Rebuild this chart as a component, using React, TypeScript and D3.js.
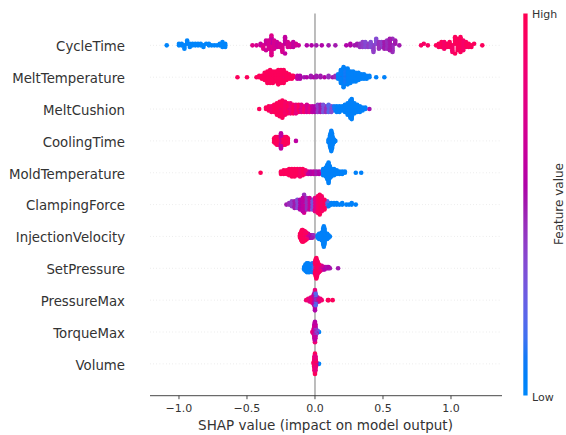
import React, { useEffect, useRef } from 'react';
import * as d3 from 'd3';

// feature names, top to bottom
const features = [
  'CycleTime', 'MeltTemperature', 'MeltCushion', 'CoolingTime', 'MoldTemperature',
  'ClampingForce', 'InjectionVelocity', 'SetPressure', 'PressureMax', 'TorqueMax', 'Volume'
];

// each entry: [shap value, feature value (0 = low .. 1 = high), number of samples]
type Pt = [number, number, number];

const cycleTime: Pt[] = [
  [-1.09, 0.02, 1], [-1.00, 0.02, 2], [-0.98, 0.02, 2], [-0.96, 0.02, 3], [-0.94, 0.02, 3],
  [-0.92, 0.02, 3], [-0.90, 0.02, 2], [-0.88, 0.02, 2], [-0.86, 0.02, 2], [-0.84, 0.02, 2],
  [-0.82, 0.02, 2], [-0.80, 0.02, 1], [-0.78, 0.02, 2], [-0.76, 0.02, 1], [-0.74, 0.02, 1],
  [-0.72, 0.02, 1], [-0.70, 0.02, 2], [-0.68, 0.02, 4], [-0.66, 0.02, 3],
  [-0.46, 0.75, 1], [-0.43, 0.7, 1], [-0.40, 0.65, 2], [-0.38, 0.75, 3], [-0.36, 0.65, 4],
  [-0.34, 0.7, 6], [-0.32, 0.75, 8], [-0.32, 0.6, 5], [-0.30, 0.7, 6], [-0.28, 0.65, 4],
  [-0.26, 0.7, 3], [-0.24, 0.72, 5], [-0.22, 0.62, 6], [-0.20, 0.7, 4], [-0.18, 0.7, 3],
  [-0.16, 0.62, 4], [-0.14, 0.7, 2], [-0.12, 0.65, 1],
  [-0.06, 0.55, 1], [-0.025, 0.55, 1], [0.01, 0.5, 1], [0.05, 0.55, 1], [0.10, 0.5, 1], [0.15, 0.5, 1],
  [0.23, 0.55, 1], [0.26, 0.55, 2], [0.29, 0.5, 1], [0.31, 0.5, 2], [0.33, 0.45, 3],
  [0.35, 0.4, 4], [0.37, 0.35, 4], [0.39, 0.4, 3], [0.41, 0.35, 4], [0.43, 0.4, 5],
  [0.45, 0.35, 4], [0.47, 0.45, 5], [0.49, 0.4, 4], [0.51, 0.5, 5], [0.53, 0.45, 6],
  [0.55, 0.5, 8], [0.57, 0.45, 6], [0.59, 0.5, 3], [0.62, 0.5, 1],
  [0.78, 0.92, 1], [0.80, 0.92, 1], [0.83, 0.92, 1], [0.89, 0.96, 1], [0.91, 0.96, 3],
  [0.93, 0.96, 4], [0.95, 0.9, 5], [0.97, 0.96, 3], [0.99, 0.96, 4], [1.01, 0.9, 5],
  [1.03, 0.96, 6], [1.05, 0.96, 8], [1.07, 0.96, 10], [1.09, 0.9, 7], [1.11, 0.96, 4],
  [1.13, 0.96, 3], [1.15, 0.96, 2], [1.17, 0.96, 1], [1.23, 0.96, 1]
];

const meltTemperature: Pt[] = [
  [-0.57, 0.96, 1], [-0.50, 0.96, 1], [-0.43, 0.96, 1], [-0.41, 0.96, 2], [-0.39, 0.96, 3],
  [-0.37, 0.96, 6], [-0.35, 0.96, 9], [-0.33, 0.96, 10], [-0.31, 0.96, 9], [-0.30, 0.8, 2],
  [-0.29, 0.96, 8], [-0.27, 0.96, 11], [-0.25, 0.96, 10], [-0.24, 0.8, 2], [-0.23, 0.96, 8],
  [-0.21, 0.96, 6], [-0.19, 0.96, 4], [-0.17, 0.96, 3], [-0.16, 0.96, 2],
  [-0.13, 0.6, 3], [-0.11, 0.55, 3], [-0.08, 0.5, 1], [-0.06, 0.55, 1], [-0.03, 0.5, 2],
  [-0.01, 0.55, 1], [0.01, 0.5, 2], [0.04, 0.5, 2], [0.07, 0.55, 1], [0.10, 0.45, 2],
  [0.13, 0.5, 1], [0.15, 0.45, 2],
  [0.17, 0.05, 4], [0.19, 0.05, 10], [0.20, 0.5, 2], [0.21, 0.05, 15], [0.22, 0.1, 12],
  [0.23, 0.5, 2], [0.24, 0.05, 12], [0.25, 0.7, 1], [0.26, 0.05, 9], [0.28, 0.05, 8],
  [0.30, 0.05, 7], [0.32, 0.05, 6], [0.34, 0.05, 4], [0.36, 0.05, 4], [0.38, 0.05, 3],
  [0.40, 0.05, 2], [0.45, 0.05, 1], [0.51, 0.05, 1]
];

const meltCushion: Pt[] = [
  [-0.41, 0.96, 1], [-0.36, 0.96, 2], [-0.34, 0.96, 4], [-0.32, 0.9, 5], [-0.30, 0.96, 6],
  [-0.28, 0.96, 9], [-0.26, 0.96, 11], [-0.25, 0.75, 3], [-0.24, 0.96, 13], [-0.22, 0.9, 10],
  [-0.20, 0.96, 8], [-0.19, 0.7, 3], [-0.18, 0.85, 8], [-0.16, 0.96, 7], [-0.14, 0.8, 7],
  [-0.12, 0.96, 6], [-0.11, 0.65, 3], [-0.10, 0.75, 6], [-0.08, 0.9, 5], [-0.06, 0.7, 6],
  [-0.04, 0.8, 5], [-0.02, 0.6, 5],
  [0.00, 0.55, 5], [0.02, 0.4, 6], [0.04, 0.5, 6], [0.06, 0.3, 6], [0.08, 0.45, 5],
  [0.10, 0.2, 6], [0.12, 0.35, 5], [0.14, 0.1, 4],
  [0.16, 0.05, 5], [0.18, 0.05, 5], [0.20, 0.05, 4], [0.22, 0.05, 6], [0.24, 0.05, 9],
  [0.26, 0.05, 13], [0.27, 0.05, 15], [0.29, 0.05, 8], [0.31, 0.05, 6], [0.33, 0.05, 5],
  [0.35, 0.05, 3], [0.37, 0.05, 2], [0.40, 0.5, 1]
];

const coolingTime: Pt[] = [
  [-0.30, 0.96, 4], [-0.29, 0.96, 6], [-0.28, 0.96, 7], [-0.27, 0.96, 7], [-0.26, 0.9, 7],
  [-0.25, 0.6, 13], [-0.24, 0.96, 7], [-0.23, 0.96, 7], [-0.22, 0.96, 7], [-0.21, 0.96, 6],
  [-0.20, 0.96, 5], [-0.14, 0.6, 1],
  [0.10, 0.05, 3], [0.11, 0.05, 9], [0.115, 0.05, 13], [0.12, 0.05, 17], [0.125, 0.05, 13],
  [0.13, 0.05, 7], [0.14, 0.05, 3], [0.15, 0.05, 1]
];

const moldTemperature: Pt[] = [
  [-0.40, 0.96, 1], [-0.25, 0.96, 3], [-0.23, 0.96, 4], [-0.21, 0.96, 4], [-0.19, 0.96, 6],
  [-0.17, 0.96, 7], [-0.15, 0.96, 7], [-0.13, 0.96, 6], [-0.11, 0.9, 7], [-0.09, 0.96, 6],
  [-0.07, 0.85, 4],
  [-0.05, 0.6, 3], [-0.03, 0.55, 3], [-0.01, 0.6, 3], [0.01, 0.5, 3], [0.03, 0.55, 3], [0.05, 0.45, 2],
  [0.06, 0.05, 6], [0.08, 0.05, 8], [0.09, 0.05, 12], [0.10, 0.05, 17], [0.11, 0.05, 10],
  [0.12, 0.05, 7], [0.14, 0.05, 6], [0.16, 0.05, 4], [0.18, 0.05, 3], [0.20, 0.05, 3],
  [0.22, 0.05, 2], [0.30, 0.05, 1], [0.34, 0.05, 1]
];

const clampingForce: Pt[] = [
  [-0.21, 0.5, 1], [-0.19, 0.45, 2], [-0.17, 0.4, 4], [-0.15, 0.5, 5], [-0.13, 0.35, 6],
  [-0.11, 0.55, 7], [-0.09, 0.6, 9], [-0.08, 0.7, 6], [-0.08, 0.45, 6], [-0.06, 0.45, 8],
  [-0.04, 0.65, 8], [-0.02, 0.3, 7], [0.00, 0.75, 9], [0.02, 0.9, 11], [0.035, 0.96, 13],
  [0.05, 0.9, 10], [0.07, 0.96, 7], [0.09, 0.2, 4],
  [0.10, 0.05, 3], [0.12, 0.05, 2], [0.14, 0.05, 2], [0.16, 0.05, 2], [0.18, 0.05, 1],
  [0.20, 0.05, 2], [0.23, 0.05, 1], [0.25, 0.05, 1], [0.27, 0.05, 2], [0.30, 0.05, 1]
];

const injectionVelocity: Pt[] = [
  [-0.11, 0.96, 4], [-0.10, 0.96, 8], [-0.095, 0.96, 10], [-0.09, 0.96, 10], [-0.085, 0.96, 9],
  [-0.08, 0.96, 8], [-0.075, 0.9, 8], [-0.07, 0.96, 7], [-0.065, 0.96, 6], [-0.06, 0.85, 5],
  [-0.055, 0.75, 4], [-0.05, 0.65, 4], [-0.04, 0.6, 3], [-0.03, 0.55, 3], [-0.02, 0.5, 3],
  [-0.01, 0.45, 2],
  [0.02, 0.05, 3], [0.03, 0.05, 5], [0.04, 0.05, 5], [0.05, 0.05, 7], [0.06, 0.05, 13],
  [0.065, 0.05, 17], [0.07, 0.05, 13], [0.08, 0.05, 5], [0.09, 0.05, 5], [0.10, 0.05, 3],
  [0.11, 0.05, 1]
];

const setPressure: Pt[] = [
  [-0.08, 0.05, 3], [-0.07, 0.05, 6], [-0.06, 0.05, 8], [-0.05, 0.05, 8], [-0.04, 0.05, 7],
  [-0.03, 0.05, 6], [-0.02, 0.1, 8], [-0.01, 0.2, 6],
  [0.00, 0.9, 10], [0.005, 0.96, 14], [0.01, 0.96, 17], [0.015, 0.9, 13], [0.02, 0.96, 10],
  [0.03, 0.9, 7], [0.04, 0.8, 5], [0.05, 0.7, 4], [0.06, 0.6, 3], [0.07, 0.55, 3],
  [0.08, 0.6, 2], [0.09, 0.5, 2], [0.10, 0.55, 2], [0.11, 0.5, 1], [0.17, 0.5, 1]
];

const pressureMax: Pt[] = [
  [-0.065, 0.85, 1], [-0.05, 0.9, 2], [-0.04, 0.8, 3], [-0.03, 0.75, 4], [-0.02, 0.85, 5],
  [-0.01, 0.7, 8], [-0.005, 0.6, 10], [0.00, 0.8, 6], [0.00, 0.3, 5], [0.00, 0.55, 6],
  [0.005, 0.2, 10], [0.01, 0.5, 6], [0.02, 0.75, 4], [0.03, 0.8, 3], [0.04, 0.85, 2],
  [0.05, 0.9, 1], [0.095, 0.96, 1], [0.10, 0.96, 1], [0.13, 0.96, 1]
];

const torqueMax: Pt[] = [
  [-0.02, 0.8, 1], [-0.012, 0.85, 3], [-0.008, 0.7, 6], [-0.004, 0.8, 10], [-0.002, 0.6, 14],
  [0.00, 0.85, 9], [0.00, 0.55, 8], [0.002, 0.65, 12], [0.004, 0.4, 8], [0.008, 0.3, 5],
  [0.012, 0.5, 3], [0.02, 0.2, 2], [0.03, 0.05, 1]
];

const volume: Pt[] = [
  [-0.01, 0.9, 2], [-0.006, 0.96, 6], [-0.003, 0.85, 12], [0.00, 0.96, 10], [0.00, 0.7, 7],
  [0.003, 0.8, 12], [0.006, 0.96, 6], [0.01, 0.6, 3], [0.02, 0.3, 1], [0.03, 0.05, 1]
];

const rows: Pt[][] = [
  cycleTime, meltTemperature, meltCushion, coolingTime, moldTemperature,
  clampingForce, injectionVelocity, setPressure, pressureMax, torqueMax, volume
];

const xTicks = [-1.0, -0.5, 0.0, 0.5, 1.0];

// shap's red_blue map: Lch blend, lightness dips in the middle
function shapColor(t: number) {
  const l = t < 0.5 ? 54 - 28 * t : 40 + 28 * (t - 0.5);
  const c = 70 + 20 * t;
  const h = 266.93 + (380.32 - 266.93) * t;
  return d3.hcl(h % 360, c, l).formatHex();
}

// same binning as shap's beeswarm
function swarm(entries: Pt[]) {
  const pts: any[] = [];
  entries.forEach(([v, c, n], e) => {
    for (let j = 0; j < n; j++) pts.push({ v, c, j, e, y: 0, q: 0 });
  });
  const lo = d3.min(pts, p => p.v), hi = d3.max(pts, p => p.v);
  const nbins = 100;
  pts.forEach(p => { p.q = Math.round(nbins * (p.v - lo) / (hi - lo + 1e-8)); });
  const order = pts.slice().sort((a, b) => a.q - b.q || a.j - b.j || a.e - b.e);
  let layer = 0, last = -1;
  order.forEach(p => {
    if (p.q !== last) layer = 0;
    p.y = Math.ceil(layer / 2) * ((layer % 2) * 2 - 1);
    layer++;
    last = p.q;
  });
  const m = d3.max(pts, p => p.y + 1);
  pts.forEach(p => { p.y *= 0.9 * (0.4 / m); });
  return pts.sort((a, b) => a.j - b.j || a.e - b.e);
}

function App() {
  const ref = useRef<SVGSVGElement>(null);

  useEffect(() => {
    const width = 566, height = 435;
    const svg = d3.select(ref.current);
    svg.selectAll('*').remove();
    svg.attr('width', width).attr('height', height);

    const font = 'DejaVu Sans, sans-serif';
    const x = d3.scaleLinear().domain([-1.213, 1.375]).range([150, 502]);
    const y = d3.scaleLinear().domain([-1, features.length]).range([395.7, 13.5]);
    const n = features.length;

    // dotted row guides
    features.forEach((f, i) => {
      svg.append('line')
        .attr('x1', 150).attr('x2', 502)
        .attr('y1', y(n - 1 - i)).attr('y2', y(n - 1 - i))
        .attr('stroke', '#cccccc').attr('stroke-width', 0.6)
        .attr('stroke-dasharray', '0.6 2.6');
    });

    // zero line
    svg.append('line')
      .attr('x1', x(0)).attr('x2', x(0))
      .attr('y1', y(features.length)).attr('y2', y(-1))
      .attr('stroke', '#999999').attr('stroke-width', 1.3);

    // dots
    rows.forEach((entries, i) => {
      const pos = n - 1 - i;
      svg.append('g').selectAll('circle')
        .data(swarm(entries))
        .join('circle')
        .attr('cx', d => x(d.v))
        .attr('cy', d => y(pos + d.y))
        .attr('r', 2.3)
        .attr('fill', d => shapColor(d.c));
    });

    // feature labels
    svg.append('g').selectAll('text')
      .data(features)
      .join('text')
      .attr('x', 125)
      .attr('y', (d, i) => y(n - 1 - i) + 5.8)
      .attr('text-anchor', 'end')
      .style('font-family', font)
      .style('font-size', '13.3px')
      .attr('fill', '#333333')
      .text(d => d);

    // x axis
    const ax = svg.append('g').attr('transform', `translate(0,${y(-1)})`);
    ax.append('line').attr('x1', 150).attr('x2', 502)
      .attr('stroke', '#333333').attr('stroke-width', 0.9);
    xTicks.forEach(t => {
      ax.append('line').attr('x1', x(t)).attr('x2', x(t)).attr('y1', 0).attr('y2', 3.5)
        .attr('stroke', '#333333').attr('stroke-width', 0.9);
      ax.append('text').attr('x', x(t)).attr('y', 16.6)
        .attr('text-anchor', 'middle')
        .style('font-family', font).style('font-size', '11px')
        .attr('fill', '#333333')
        .text(d3.format('.1f')(t).replace('-', '\u2212'));
    });
    svg.append('text')
      .attr('x', 325.5).attr('y', 429.5)
      .attr('text-anchor', 'middle')
      .style('font-family', font).style('font-size', '13.5px')
      .attr('fill', '#333333')
      .text('SHAP value (impact on model output)');

    // colour bar
    const grad = svg.append('defs').append('linearGradient')
      .attr('id', 'shapbar').attr('x1', 0).attr('x2', 0).attr('y1', 1).attr('y2', 0);
    d3.range(0, 1.0001, 0.05).forEach(t => {
      grad.append('stop').attr('offset', t).attr('stop-color', shapColor(t));
    });
    svg.append('rect')
      .attr('x', 523.3).attr('y', 13.5).attr('width', 4.3).attr('height', 395.5 - 13.5)
      .attr('fill', 'url(#shapbar)');
    svg.append('text').attr('x', 532).attr('y', 17.6)
      .style('font-family', font).style('font-size', '11px').attr('fill', '#333333')
      .text('High');
    svg.append('text').attr('x', 532).attr('y', 400.6)
      .style('font-family', font).style('font-size', '11px').attr('fill', '#333333')
      .text('Low');
    svg.append('text')
      .attr('transform', 'translate(562.5,204) rotate(-90)')
      .attr('text-anchor', 'middle')
      .style('font-family', font).style('font-size', '12px').attr('fill', '#333333')
      .text('Feature value');
  }, []);

  return <svg ref={ref} style={{ position: 'absolute', left: 0, top: 0 }}></svg>;
}

export default App;
